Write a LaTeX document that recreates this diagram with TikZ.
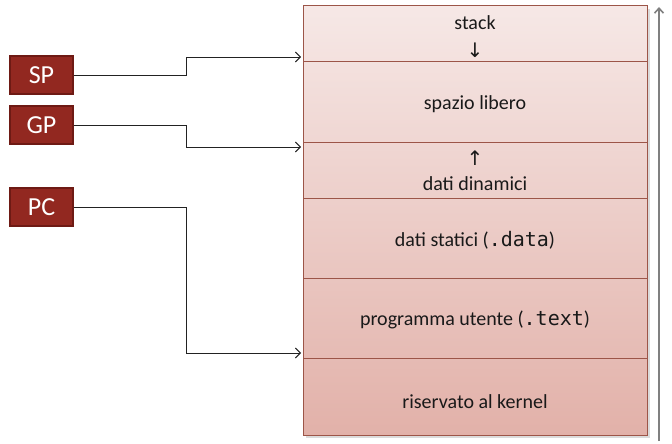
\documentclass[tikz,border=0pt]{standalone}
\usepackage{fontspec}
\setmainfont{Carlito}
\setmonofont[Scale=1.0]{DejaVu Sans Mono}
\newfontfamily\arrowfont{DejaVu Sans}
\usetikzlibrary{arrows.meta}
\definecolor{regfill}{HTML}{922820}
\definecolor{regline}{HTML}{6E1A14}
\definecolor{memtop}{HTML}{F6E8E6}
\definecolor{membot}{HTML}{E2B1A9}
\definecolor{memline}{HTML}{9C5548}
\definecolor{wire}{HTML}{222222}
\tikzset{
  register/.style={draw=regline, line width=1.4pt, fill=regfill, text=white,
    minimum width=63pt, minimum height=38pt, inner sep=0pt,
    font=\fontsize{26}{26}\selectfont},
  seglabel/.style={font=\fontsize{20}{24}\selectfont, text=black!90, align=center},
  arrowglyph/.style={font=\arrowfont\fontsize{20}{20}\selectfont, text=black!90},
  conn/.style={draw=wire, line width=0.9pt, -{Straight Barb[length=5pt,width=10pt]}},
  sepline/.style={draw=memline, line width=1pt},
}
\begin{document}
\begin{tikzpicture}[x=1pt,y=-1pt]
\useasboundingbox (0,0) rectangle (672,444);

% memory column: shadow, gradient body, outline
\fill[black!14] (306,9) rectangle (650,438);
\shade[top color=memtop, bottom color=membot] (303,6) rectangle (647,435);
\draw[sepline] (303,6) rectangle (647,435);
\foreach \y in {62,142,198,278,358}
  \draw[sepline] (303,\y) -- (647,\y);

% segment labels
\node[seglabel]   (stack)  at (475,23)  {stack};
\node[arrowglyph] (down)   at (475,50)  {↓};
\node[seglabel]   (free)   at (475,104) {spazio libero};
\node[arrowglyph] (up)     at (475,158) {↑};
\node[seglabel]   (heap)   at (475,184) {dati dinamici};
\node[seglabel]   (data)   at (475,240) {dati statici (\texttt{.data})};
\node[seglabel]   (text)   at (475,320) {programma utente (\texttt{.text})};
\node[seglabel]   (kernel) at (475,402) {riservato al kernel};

% address axis
\coordinate (axlo) at (659,441);
\coordinate (axhi) at (659,7);
\draw[draw=black!50, line width=1.6pt, -{Straight Barb[length=5pt,width=9pt]}] (axlo) -- (axhi);

% registers
\node[register] (sp) at (41.5,75)  {SP};
\node[register] (gp) at (41.5,125) {GP};
\node[register] (pc) at (41.5,207) {PC};

% pointer targets on the memory column
\coordinate (spT) at (301,57);
\coordinate (gpT) at (301,147);
\coordinate (pcT) at (301,353);

\draw[conn] (sp.east) -- (186,75)  |- (spT);
\draw[conn] (gp.east) -- (186,125) |- (gpT);
\draw[conn] (pc.east) -- (186,207) |- (pcT);
\end{tikzpicture}
\end{document}
